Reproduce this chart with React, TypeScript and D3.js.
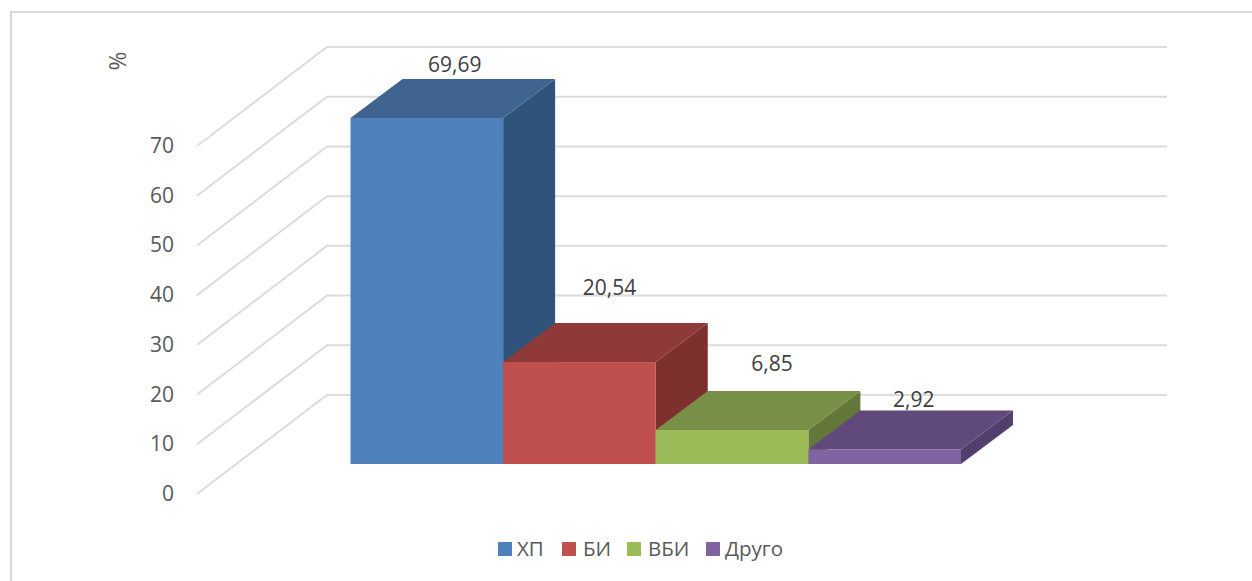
import React from "react";
import * as d3 from "d3";

const categories = ["ХП", "БИ", "ВБИ", "Друго"];
const values = [69.69, 20.54, 6.85, 2.92];
const valueLabels = ["69,69", "20,54", "6,85", "2,92"];
const ticks = [0, 10, 20, 30, 40, 50, 60, 70];
const frontColors = ["#4f81bd", "#c0504d", "#9bbb59", "#8064a2"];
const topColors = ["#3f648f", "#8f3a39", "#778f46", "#604a7b"];
const sideColors = ["#30537c", "#7d302e", "#64773a", "#533f6c"];
const labelOffsets = [
  { dx: 2, dy: -6.6 },
  { dx: 4, dy: -28 },
  { dx: 14, dy: -20 },
  { dx: 3, dy: -3.5 },
];
const legendSwatchX = [498, 562, 627, 706];
const legendTextX = [517, 583, 648, 725];

const FONT = "'Open Sans', sans-serif";

export default function App() {
  const wallY = d3.scaleLinear().domain([0, 70]).range([494, 146]);
  const wallDepth = { dx: 130, dy: -99 };
  const wallRight = 1167;

  const barY = d3.scaleLinear().domain([0, 70]).range([464, 116.5]);
  const barX = d3.scaleBand<string>().domain(categories).range([350.5, 961]).padding(0);
  const barDepth = { dx: 52, dy: -39 };

  const poly = (pts: [number, number][]) => d3.line()(pts) + "Z";

  return (
    <svg
      width={1252}
      height={581}
      style={{ position: "absolute", left: 0, top: 0, background: "#fff" }}
      fontFamily={FONT}
    >
      {/* outer chart frame, running off the page on the right and bottom */}
      <path d="M11 581V12H1252" fill="none" stroke="#d9d9d9" strokeWidth={2} />

      {/* floor-to-wall gridlines */}
      {ticks.map((t) => {
        const y = wallY(t);
        const pts: [number, number][] = [
          [197, y],
          [197 + wallDepth.dx, y + wallDepth.dy],
          [wallRight, y + wallDepth.dy],
        ];
        return (
          <path key={t} d={d3.line()(pts)!} fill="none" stroke="#dcdcdc" strokeWidth={2} />
        );
      })}

      {/* axis tick labels */}
      {ticks.map((t) => (
        <text key={t} x={174} y={wallY(t) + 7} textAnchor="end" fontSize={21} fill="#595959">
          {t}
        </text>
      ))}
      <text
        transform="translate(126,61) rotate(-90)"
        textAnchor="middle"
        fontSize={23}
        fill="#595959"
      >
        %
      </text>

      {/* extruded bars, left to right so later bars overlap earlier side faces */}
      {categories.map((c, i) => {
        const x0 = barX(c)!;
        const x1 = x0 + barX.bandwidth();
        const yTop = barY(values[i]);
        const yBase = barY(0);
        const { dx, dy } = barDepth;
        return (
          <g key={c}>
            <path
              d={poly([
                [x1, yTop],
                [x1 + dx, yTop + dy],
                [x1 + dx, yBase + dy],
                [x1, yBase],
              ])}
              fill={sideColors[i]}
            />
            <path
              d={poly([
                [x0, yTop],
                [x0 + dx, yTop + dy],
                [x1 + dx, yTop + dy],
                [x1, yTop],
              ])}
              fill={topColors[i]}
            />
            <rect x={x0} y={yTop} width={x1 - x0} height={yBase - yTop} fill={frontColors[i]} />
          </g>
        );
      })}

      {/* value labels above each bar */}
      {categories.map((c, i) => (
        <text
          key={c}
          x={barX(c)! + barX.bandwidth() / 2 + barDepth.dx / 2 + labelOffsets[i].dx}
          y={barY(values[i]) + barDepth.dy + labelOffsets[i].dy}
          textAnchor="middle"
          fontSize={21}
          fill="#404040"
        >
          {valueLabels[i]}
        </text>
      ))}

      {/* legend */}
      {categories.map((c, i) => (
        <g key={c}>
          <rect x={legendSwatchX[i]} y={542} width={14} height={14} fill={frontColors[i]} />
          <text x={legendTextX[i]} y={556} fontSize={20.5} fill="#595959">
            {c}
          </text>
        </g>
      ))}
    </svg>
  );
}
